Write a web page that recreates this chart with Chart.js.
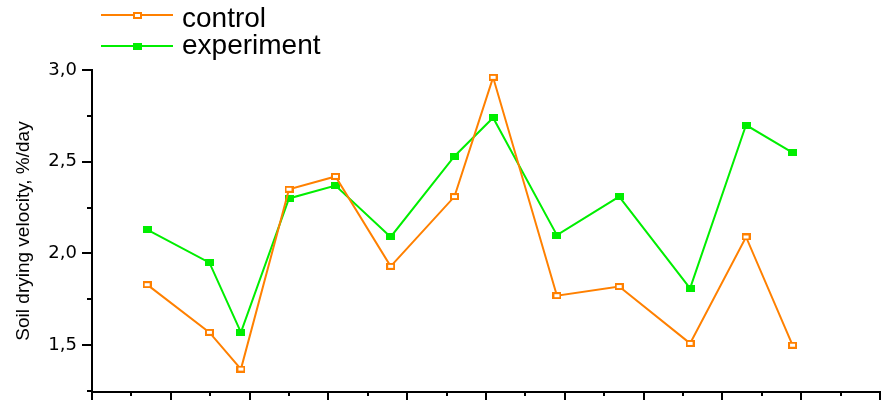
<!DOCTYPE html>
<html>
<head>
<meta charset="utf-8">
<script src="https://cdn.jsdelivr.net/npm/chart.js@4/dist/chart.umd.min.js"></script>
<style>
  html, body { margin: 0; padding: 0; background: #fff; }
  #wrap { width: 894px; height: 401px; position: relative; }
</style>
</head>
<body>
<div id="wrap"><canvas id="chart"></canvas></div>
<script>
// sampling positions along the x axis (no tick labels on it)
const days = [0.70, 1.49, 1.89, 2.50, 3.09, 3.79, 4.60, 5.09, 5.90, 6.69, 7.59, 8.30, 8.89]

// soil drying velocity, %/day
const control = [1.83, 1.57, 1.37, 2.35, 2.42, 1.93, 2.31, 2.96, 1.77, 1.82, 1.51, 2.09, 1.50]
const experiment = [2.13, 1.95, 1.57, 2.30, 2.37, 2.09, 2.53, 2.74, 2.10, 2.31, 1.81, 2.70, 2.55]

// axis ticks
const yMajor = [1.5, 2.0, 2.5, 3.0]
const yMinor = [1.25, 1.75, 2.25, 2.75]
const xMajor = [0, 1, 2, 3, 4, 5, 6, 7, 8, 9, 10]
const xMinor = [0.5, 1.5, 2.5, 3.5, 4.5, 5.5, 6.5, 7.5, 8.5, 9.5]

const ORANGE = '#ff8000'
const GREEN = '#00ee00'
const FONT = 'Liberation Sans, Arial, sans-serif'

const toPoints = (ys) => ys.map((y, i) => ({ x: days[i], y }))

// small flat rectangle markers
function marker(w, h, color, hollow) {
  const c = document.createElement('canvas')
  c.width = w
  c.height = h
  const g = c.getContext('2d')
  g.fillStyle = color
  g.fillRect(0, 0, w, h)
  if (hollow) {
    g.fillStyle = '#fff'
    g.fillRect(2, 2, w - 4, h - 4)
  }
  return c
}
const controlMark = marker(9, 7, ORANGE, true)
const experimentMark = marker(9, 7, GREEN, false)

// tick marks: long ones on major values, short ones between
const tickMarks = {
  id: 'tickMarks',
  afterDraw(chart) {
    const { ctx, scales: { x, y } } = chart
    ctx.save()
    ctx.strokeStyle = '#000'
    ctx.lineWidth = 2
    ctx.beginPath()
    yMajor.forEach(v => {
      const py = Math.round(y.getPixelForValue(v))
      ctx.moveTo(x.left - 10, py); ctx.lineTo(x.left, py)
    })
    yMinor.forEach(v => {
      const py = Math.round(y.getPixelForValue(v))
      ctx.moveTo(x.left - 5, py); ctx.lineTo(x.left, py)
    })
    xMajor.forEach(v => {
      const px = Math.round(x.getPixelForValue(v))
      ctx.moveTo(px, y.bottom); ctx.lineTo(px, y.bottom + 8)
    })
    xMinor.forEach(v => {
      const px = Math.round(x.getPixelForValue(v))
      ctx.moveTo(px, y.bottom); ctx.lineTo(px, y.bottom + 4)
    })
    ctx.stroke()
    ctx.restore()
  }
}

// legend in the top-left corner: line sample with its marker, then the label
const cornerLegend = {
  id: 'cornerLegend',
  afterDraw(chart) {
    const { ctx } = chart
    const rows = [{ y: 15, base: 27 }, { y: 46, base: 54 }]
    ctx.save()
    chart.data.datasets.forEach((ds, i) => {
      const r = rows[i]
      ctx.strokeStyle = ds.borderColor
      ctx.lineWidth = 2
      ctx.beginPath()
      ctx.moveTo(101, r.y); ctx.lineTo(173, r.y)
      ctx.stroke()
      const m = ds.pointStyle
      ctx.drawImage(m, 137 - Math.floor(m.width / 2), r.y - Math.floor(m.height / 2))
      ctx.fillStyle = '#000'
      ctx.font = '28px ' + FONT
      ctx.textBaseline = 'alphabetic'
      ctx.fillText(ds.label, 182, r.base)
    })
    ctx.restore()
  }
}

new Chart(document.getElementById('chart'), {
  type: 'line',
  data: {
    datasets: [
      {
        label: 'control',
        data: toPoints(control),
        borderColor: ORANGE,
        borderWidth: 2,
        pointStyle: controlMark,
        pointRadius: 5,
        tension: 0
      },
      {
        label: 'experiment',
        data: toPoints(experiment),
        borderColor: GREEN,
        borderWidth: 2,
        pointStyle: experimentMark,
        pointRadius: 5,
        tension: 0
      }
    ]
  },
  options: {
    responsive: true,
    maintainAspectRatio: false,
    animation: false,
    layout: { autoPadding: false, padding: { top: 70, right: 14, bottom: 0, left: 0 } },
    plugins: {
      legend: { display: false },
      tooltip: { enabled: false }
    },
    scales: {
      x: {
        type: 'linear',
        min: 0,
        max: 10,
        grid: { display: false },
        border: { display: true, color: '#000', width: 2 },
        ticks: { display: false },
        afterFit(scale) {
          scale.height = 9
          scale.paddingLeft = 0
          scale.paddingRight = 0
        }
      },
      y: {
        min: 1.245,
        max: 3.0,
        grid: { display: false },
        border: { display: true, color: '#000', width: 2 },
        afterBuildTicks(scale) { scale.ticks = yMajor.map(v => ({ value: v })) },
        ticks: {
          color: '#000',
          padding: 7,
          font: { family: 'DejaVu Sans', size: 18 },
          callback: (v) => v.toFixed(1).replace('.', ',')
        },
        title: {
          display: true,
          text: 'Soil drying velocity, %/day',
          color: '#000',
          font: { family: FONT, size: 19 },
          padding: { top: 12, bottom: 0 }
        },
        afterFit(scale) {
          scale.width = 92
          scale.paddingTop = 0
          scale.paddingBottom = 0
        }
      }
    }
  },
  plugins: [tickMarks, cornerLegend]
})
</script>
</body>
</html>
